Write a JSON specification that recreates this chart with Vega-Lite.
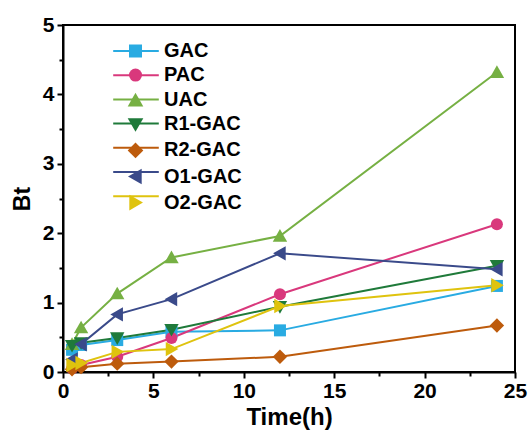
{
  "$schema": "https://vega.github.io/schema/vega-lite/v6.json",
  "width": 452,
  "height": 347,
  "autosize": {"type": "none"},
  "padding": {"left": 63, "top": 25, "right": 15, "bottom": 65},
  "background": "white",
  "config": {
    "view": {"stroke": "black", "strokeWidth": 2},
    "font": "Liberation Sans",
    "axis": {
      "domainColor": "black", "domainWidth": 2, "tickColor": "black", "tickWidth": 2,
      "grid": false, "labelFont": "Liberation Sans", "labelFontWeight": "bold", "labelFontSize": 21,
      "labelColor": "black", "titleFont": "Liberation Sans", "titleFontWeight": "bold", "titleColor": "black"
    }
  },
  "data": {
    "values": [
      {"series": "GAC", "name": "GAC", "time": 0.5, "bt": 0.32}, {"series": "GAC", "name": "GAC", "time": 1, "bt": 0.39}, {"series": "GAC", "name": "GAC", "time": 3, "bt": 0.46}, {"series": "GAC", "name": "GAC", "time": 6, "bt": 0.58}, {"series": "GAC", "name": "GAC", "time": 12, "bt": 0.6}, {"series": "GAC", "name": "GAC", "time": 24, "bt": 1.24},
      {"series": "PAC", "name": "PAC", "time": 0.5, "bt": 0.05}, {"series": "PAC", "name": "PAC", "time": 1, "bt": 0.1}, {"series": "PAC", "name": "PAC", "time": 3, "bt": 0.22}, {"series": "PAC", "name": "PAC", "time": 6, "bt": 0.49}, {"series": "PAC", "name": "PAC", "time": 12, "bt": 1.12}, {"series": "PAC", "name": "PAC", "time": 24, "bt": 2.13},
      {"series": "UAC", "name": "UAC", "time": 0.5, "bt": 0.4}, {"series": "UAC", "name": "UAC", "time": 1, "bt": 0.64}, {"series": "UAC", "name": "UAC", "time": 3, "bt": 1.13}, {"series": "UAC", "name": "UAC", "time": 6, "bt": 1.65}, {"series": "UAC", "name": "UAC", "time": 12, "bt": 1.96}, {"series": "UAC", "name": "UAC", "time": 24, "bt": 4.32},
      {"series": "R1-GAC", "name": "R1-GAC", "time": 0.5, "bt": 0.38}, {"series": "R1-GAC", "name": "R1-GAC", "time": 1, "bt": 0.42}, {"series": "R1-GAC", "name": "R1-GAC", "time": 3, "bt": 0.49}, {"series": "R1-GAC", "name": "R1-GAC", "time": 6, "bt": 0.61}, {"series": "R1-GAC", "name": "R1-GAC", "time": 12, "bt": 0.94}, {"series": "R1-GAC", "name": "R1-GAC", "time": 24, "bt": 1.53},
      {"series": "R2-GAC", "name": "R2-GAC", "time": 0.5, "bt": 0.04}, {"series": "R2-GAC", "name": "R2-GAC", "time": 1, "bt": 0.07}, {"series": "R2-GAC", "name": "R2-GAC", "time": 3, "bt": 0.12}, {"series": "R2-GAC", "name": "R2-GAC", "time": 6, "bt": 0.15}, {"series": "R2-GAC", "name": "R2-GAC", "time": 12, "bt": 0.22}, {"series": "R2-GAC", "name": "R2-GAC", "time": 24, "bt": 0.67},
      {"series": "O1-GAC", "name": "O1-GAC", "time": 0.5, "bt": 0.18}, {"series": "O1-GAC", "name": "O1-GAC", "time": 1, "bt": 0.4}, {"series": "O1-GAC", "name": "O1-GAC", "time": 3, "bt": 0.83}, {"series": "O1-GAC", "name": "O1-GAC", "time": 6, "bt": 1.05}, {"series": "O1-GAC", "name": "O1-GAC", "time": 12, "bt": 1.71}, {"series": "O1-GAC", "name": "O1-GAC", "time": 24, "bt": 1.48},
      {"series": "O2-GAC", "name": "O2-GAC", "time": 0.5, "bt": 0.1}, {"series": "O2-GAC", "name": "O2-GAC", "time": 1, "bt": 0.13}, {"series": "O2-GAC", "name": "O2-GAC", "time": 3, "bt": 0.29}, {"series": "O2-GAC", "name": "O2-GAC", "time": 6, "bt": 0.33}, {"series": "O2-GAC", "name": "O2-GAC", "time": 12, "bt": 0.95}, {"series": "O2-GAC", "name": "O2-GAC", "time": 24, "bt": 1.25}
    ]
  },
  "encoding": {
    "x": {
      "field": "time", "type": "quantitative",
      "scale": {"domain": [0, 25], "nice": false},
      "axis": {
        "title": "Time(h)", "titleFontSize": 24, "titlePadding": 4,
        "values": [0, 2.5, 5, 7.5, 10, 12.5, 15, 17.5, 20, 22.5, 25],
        "labelExpr": "datum.value % 5 ? '' : format(datum.value, 'd')",
        "tickSize": {"condition": {"test": "datum.value % 5 !== 0", "value": 4}, "value": 6},
        "labelPadding": 2, "labelFlush": false
      }
    },
    "y": {
      "field": "bt", "type": "quantitative",
      "scale": {"domain": [0, 5], "nice": false},
      "axis": {
        "title": "Bt", "titleFontSize": 23, "titlePadding": 8,
        "values": [0, 0.5, 1, 1.5, 2, 2.5, 3, 3.5, 4, 4.5, 5],
        "labelExpr": "datum.value % 1 ? '' : format(datum.value, 'd')",
        "tickSize": {"condition": {"test": "datum.value % 1 !== 0", "value": 4}, "value": 6},
        "labelPadding": 3, "labelFlush": false
      }
    }
  },
  "layer": [
    {
      "mark": {"type": "line", "strokeWidth": 2},
      "encoding": {
        "stroke": {
          "field": "name", "type": "nominal",
          "sort": ["GAC", "PAC", "UAC", "R1-GAC", "R2-GAC", "O1-GAC", "O2-GAC"],
          "scale": {
            "range": ["#29ABE2", "#D9387C", "#76B043", "#1F7A3A", "#BD5B0C", "#3A4A8A", "#DFC30E"]
          },
          "legend": {
            "title": null, "orient": "none", "legendX": 63, "legendY": 16, "padding": 0,
            "symbolType": "M-3.8,0H3.8", "symbolSize": 144, "symbolStrokeWidth": 2,
            "labelFont": "Liberation Sans", "labelFontSize": 20, "labelFontWeight": "bold", "labelOpacity": 0,
            "labelExpr": "' '",
            "labelOffset": 22.5, "rowPadding": 4.2
          }
        }
      }
    },
    {
      "mark": {"type": "point", "filled": true, "opacity": 1, "size": 144},
      "encoding": {
        "fill": {
          "field": "series", "type": "nominal",
          "scale": {
            "domain": ["GAC", "PAC", "UAC", "R1-GAC", "R2-GAC", "O1-GAC", "O2-GAC"],
            "range": ["#29ABE2", "#D9387C", "#76B043", "#1F7A3A", "#BD5B0C", "#3A4A8A", "#DFC30E"]
          },
          "legend": {
            "title": null, "orient": "none", "legendX": 62.5, "legendY": 16, "padding": 0,
            "labelFont": "Liberation Sans", "labelFontSize": 20, "labelFontWeight": "bold", "labelColor": "black",
            "symbolSize": 169, "labelOffset": 18.5, "rowPadding": 2.1,
            "symbolStrokeColor": "white", "symbolStrokeWidth": 2
          }
        },
        "shape": {
          "field": "series", "type": "nominal",
          "scale": {
            "domain": ["GAC", "PAC", "UAC", "R1-GAC", "R2-GAC", "O1-GAC", "O2-GAC"],
            "range": ["square", "circle", "M0,-1.15L1.2,0.95H-1.2Z", "M0,1.15L1.2,-0.95H-1.2Z", "M0,-1.2L1.2,0L0,1.2L-1.2,0Z", "M-1.15,0L0.95,-1.2V1.2Z", "M1.15,0L-0.95,-1.2V1.2Z"]
          }
        }
      }
    }
  ]
}
